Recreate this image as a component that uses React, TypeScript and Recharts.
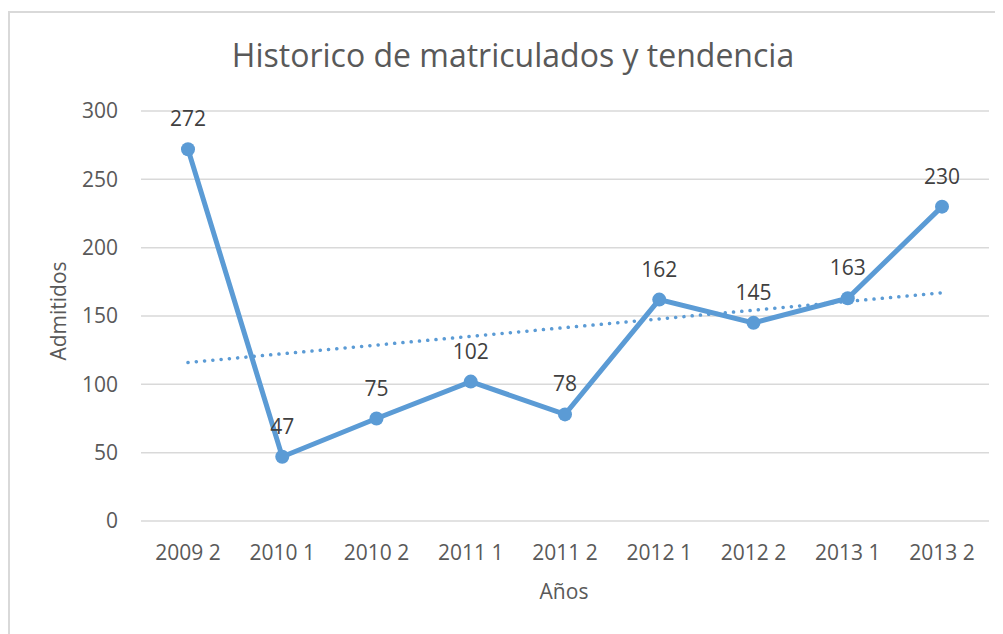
import { LineChart, Line, XAxis, YAxis, CartesianGrid, LabelList } from "recharts";

// Periodos (año + semestre)
const periodos = ["2009 2", "2010 1", "2010 2", "2011 1", "2011 2", "2012 1", "2012 2", "2013 1", "2013 2"];
// Matriculados por periodo
const matriculados = [272, 47, 75, 102, 78, 162, 145, 163, 230];
// Linea de tendencia: solo los extremos
const tendencia = [116, null, null, null, null, null, null, null, 167];
const yTicks = [0, 50, 100, 150, 200, 250, 300];

const data = periodos.map((p, i) => ({ periodo: p, valor: matriculados[i], tendencia: tendencia[i] }));

const FONT = "'Open Sans', sans-serif";
const BLUE = "#5B9BD5";

export default function App() {
    return (
        <div style={{ position: "relative", width: 995, height: 626, fontFamily: FONT, overflow: "hidden" }}>
            {/* borde del area del grafico */}
            <div style={{ position: "absolute", left: 0, top: 3, width: 1100, height: 700, borderTop: "2px solid #d9d9d9", borderLeft: "2px solid #d9d9d9", boxSizing: "border-box" }} />

            <LineChart
                width={995}
                height={626}
                data={data}
                margin={{ top: 103, right: 14, bottom: 0, left: 0 }}
                style={{ position: "absolute", left: 0, top: 0 }}
            >
                <CartesianGrid vertical={false} stroke="#d9d9d9" strokeWidth={1.5} />
                <XAxis
                    dataKey="periodo"
                    height={113}
                    axisLine={false}
                    tickLine={false}
                    tickSize={0}
                    tickMargin={24}
                    padding={{ left: 47, right: 47 }}
                    tick={{ fill: "#595959", fontSize: 21, fontFamily: FONT }}
                    interval={0}
                />
                <YAxis
                    width={133}
                    domain={[0, 300]}
                    ticks={yTicks}
                    axisLine={false}
                    tickLine={false}
                    tickSize={0}
                    tickMargin={23}
                    tick={{ fill: "#595959", fontSize: 21, fontFamily: FONT }}
                />
                <Line
                    dataKey="tendencia"
                    stroke={BLUE}
                    strokeWidth={3.5}
                    strokeDasharray="0.1 8.2"
                    strokeLinecap="round"
                    dot={false}
                    activeDot={false}
                    connectNulls
                    isAnimationActive={false}
                />
                <Line
                    dataKey="valor"
                    stroke={BLUE}
                    strokeWidth={5}
                    dot={{ r: 7, fill: BLUE, stroke: "none" }}
                    activeDot={false}
                    isAnimationActive={false}
                >
                    <LabelList dataKey="valor" position="top" offset={23} fill="#404040" fontSize={21} fontFamily={FONT} />
                </Line>
            </LineChart>

            {/* titulo y etiquetas de ejes */}
            <svg width={995} height={626} style={{ position: "absolute", left: 0, top: 0, pointerEvents: "none" }}>
                <text x={505} y={59} textAnchor="middle" fontSize={32} fill="#595959" fontFamily={FONT}>
                    Historico de matriculados y tendencia
                </text>
                <text x={58} y={303} transform="rotate(-90 58 303)" textAnchor="middle" fontSize={21} fill="#595959" fontFamily={FONT}>
                    Admitidos
                </text>
                <text x={556} y={591} textAnchor="middle" fontSize={21} fill="#595959" fontFamily={FONT}>
                    Años
                </text>
            </svg>
        </div>
    );
}
